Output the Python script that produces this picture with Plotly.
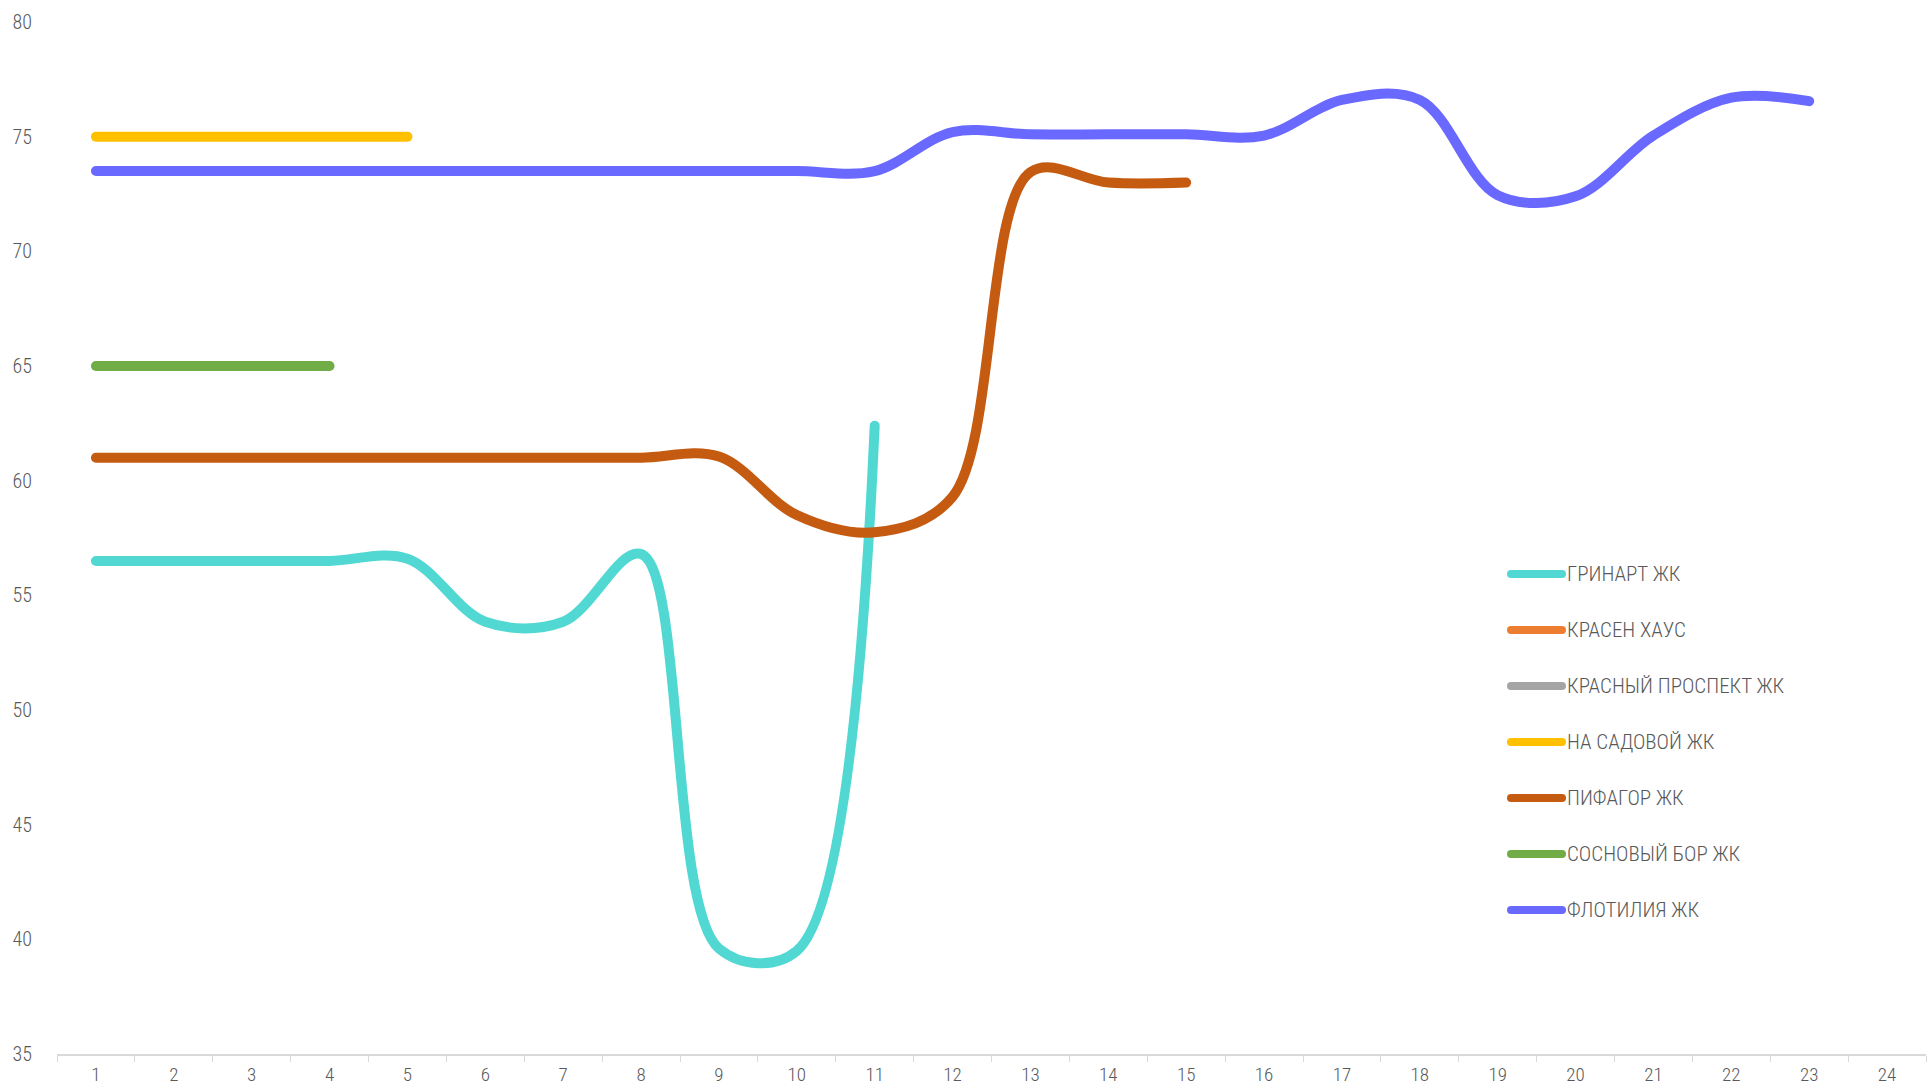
import plotly.graph_objects as go

categories = [str(i) for i in range(1, 25)]

names = ["ГРИНАРТ ЖК", "КРАСЕН ХАУС", "КРАСНЫЙ ПРОСПЕКТ ЖК", "НА САДОВОЙ ЖК",
         "ПИФАГОР ЖК", "СОСНОВЫЙ БОР ЖК", "ФЛОТИЛИЯ ЖК"]
colors = ["#52D8D3", "#ED7D31", "#A5A5A5", "#FFC000", "#C55A11", "#70AD47", "#6969FF"]

grinart = [56.5, 56.5, 56.5, 56.5, 56.6, 53.85, 53.85, 56.8, 39.6, 39.5, 62.4]
krasen_haus = []
krasny_prospekt = []
na_sadovoy = [75, 75, 75, 75, 75]
pifagor = [61, 61, 61, 61, 61, 61, 61, 61, 61.05, 58.5, 57.75, 59.3, 73.45, 73.0, 73.0]
sosnovy_bor = [65, 65, 65, 65]
flotilia = [73.5, 73.5, 73.5, 73.5, 73.5, 73.5, 73.5, 73.5, 73.5, 73.5, 73.5,
            75.2, 75.1, 75.1, 75.1, 75.05, 76.6, 76.6, 72.45, 72.4, 75.05, 76.7, 76.55]

series = [grinart, krasen_haus, krasny_prospekt, na_sadovoy, pifagor, sosnovy_bor, flotilia]

y_ticks = [35, 40, 45, 50, 55, 60, 65, 70, 75, 80]

FONT = "Roboto Condensed, Liberation Sans Narrow, Arial Narrow, DejaVu Sans Condensed, sans-serif"
TXT = "#595959"
WEIGHT = 300

W, H = 1929, 1088
ML, MR, MT, MB = 57, 3, 22, 34
PW, PH = W - ML - MR, H - MT - MB

fig = go.Figure()
for name, vals, col in zip(names, series, colors):
    y = list(vals) + [None] * (len(categories) - len(vals))
    fig.add_trace(go.Scatter(
        x=categories, y=y, name=name, mode="lines",
        line=dict(color=col, width=10, shape="spline", smoothing=1),
        connectgaps=False, showlegend=False, hoverinfo="x+y+name"))

# custom legend (long line swatch + label)
shapes, annots = [], []
leg_x0, leg_x1, leg_tx = 1511, 1562, 1565
leg_y0, leg_dy = 574, 56
for i, (name, col) in enumerate(zip(names, colors)):
    py = leg_y0 + i * leg_dy
    yp = (H - MB - py) / PH
    shapes.append(dict(type="line", xref="paper", yref="paper",
                       x0=(leg_x0 - ML) / PW, x1=(leg_x1 - ML) / PW, y0=yp, y1=yp,
                       line=dict(color=col, width=8)))
    annots.append(dict(xref="paper", yref="paper", x=(leg_tx - ML) / PW, y=yp,
                       xanchor="left", yanchor="middle", text=name, showarrow=False,
                       font=dict(family=FONT, size=21, color=TXT, weight=WEIGHT)))

fig.update_layout(
    width=W, height=H,
    margin=dict(l=ML, r=MR, t=MT, b=MB, autoexpand=False),
    paper_bgcolor="white", plot_bgcolor="white",
    font=dict(family=FONT, size=20, color=TXT, weight=WEIGHT),
    shapes=shapes, annotations=annots,
    showlegend=False,
    xaxis=dict(type="category", categoryorder="array", categoryarray=categories,
               range=[-0.5, len(categories) - 0.5], automargin=False,
               showgrid=False, zeroline=False,
               showline=True, linecolor="#D9D9D9", linewidth=2,
               ticks="outside", ticklen=6, tickwidth=1, tickcolor="#D9D9D9",
               tickson="boundaries", ticklabelstandoff=2,
               tickfont=dict(family=FONT, size=19, color=TXT, weight=WEIGHT)),
    yaxis=dict(range=[35, 80], tickvals=y_ticks, ticktext=[str(v) for v in y_ticks],
               showgrid=False, zeroline=False, showline=False, ticks="",
               ticklabelstandoff=24, automargin=False,
               tickfont=dict(family=FONT, size=20, color=TXT, weight=WEIGHT)),
)

post = """
document.querySelectorAll('.scatterlayer path.js-line').forEach(function(p){
  p.style.strokeLinecap='round'; p.style.strokeLinejoin='round';});
document.querySelectorAll('.layer-above path, .shapelayer path').forEach(function(p){
  p.style.strokeLinecap='round';});
"""
fig.write_html("out.html", post_script=post)
